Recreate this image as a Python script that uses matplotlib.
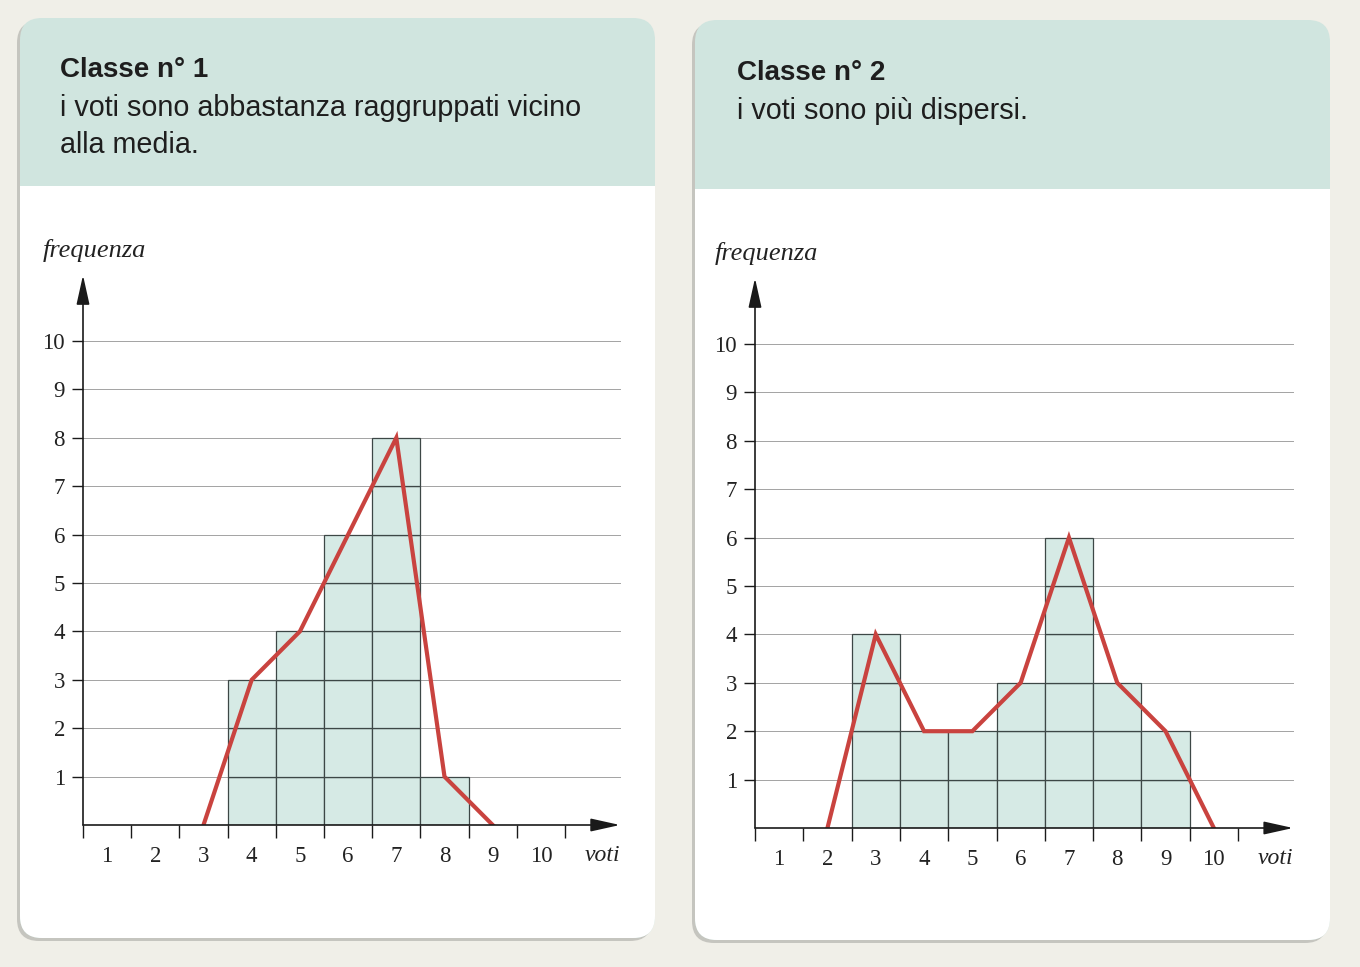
import matplotlib
matplotlib.use('Agg')
import matplotlib.pyplot as plt
from matplotlib.patches import FancyBboxPatch, Rectangle
import numpy as np

# dati
voti = [1, 2, 3, 4, 5, 6, 7, 8, 9, 10]
freq_classe1 = [0, 0, 0, 3, 4, 6, 8, 1, 0, 0]
freq_classe2 = [0, 0, 4, 2, 2, 3, 6, 3, 2, 0]
freq_ticks = [1, 2, 3, 4, 5, 6, 7, 8, 9, 10]

titoli = ['Classe n° 1', 'Classe n° 2']
testi = [['i voti sono abbastanza raggruppati vicino', 'alla media.'],
         ['i voti sono più dispersi.']]

W, H = 1360, 967
bg_col = '#f0efe8'
head_col = '#d0e5df'
bar_col = '#d6eae5'
edge_col = '#3d4746'
red = '#c9433f'
serif = 'Liberation Serif'
sans = 'Liberation Sans'

fig = plt.figure(figsize=(W / 100, H / 100), dpi=100)
fig.patch.set_facecolor(bg_col)

bg = fig.add_axes([0, 0, 1, 1])
bg.set_xlim(0, W)
bg.set_ylim(H, 0)
bg.axis('off')


def card(x0, y0, x1, y1, yh):
    r = 22
    # ombra
    sh = FancyBboxPatch((x0 - 3, y0 + 3), x1 - x0, y1 - y0,
                        boxstyle=f'round,pad=0,rounding_size={r}',
                        fc='#a9a9a4', ec='none', alpha=0.6, zorder=1)
    bg.add_patch(sh)
    head = FancyBboxPatch((x0, y0), x1 - x0, y1 - y0,
                          boxstyle=f'round,pad=0,rounding_size={r}',
                          fc=head_col, ec='none', zorder=2)
    bg.add_patch(head)
    body = FancyBboxPatch((x0, yh), x1 - x0, y1 - yh,
                          boxstyle=f'round,pad=0,rounding_size={r}',
                          fc='white', ec='none', zorder=3)
    bg.add_patch(body)
    bg.add_patch(Rectangle((x0, yh), x1 - x0, r + 2, fc='white', ec='none', zorder=3))


card(20, 18, 655, 938, 186)
card(695, 20, 1330, 940, 189)

for (tx, ty), tit, righe in zip([(60, 70), (737, 73)], titoli, testi):
    bg.text(tx, ty, tit, fontsize=20, fontweight='bold', family=sans,
            color='#1e1e1e', va='center', ha='left', zorder=5)
    for i, riga in enumerate(righe):
        bg.text(tx, ty + 38 + 37 * i, riga, fontsize=20.7, family=sans,
                color='#1e1e1e', va='center', ha='left', zorder=5)


def grafico(x0px, y0px, sx, sy, freq):
    xmin, xmax, ymin, ymax = 0.5, 11.7, 0, 11.5
    left = x0px + (xmin - 0.5) * sx
    ax = fig.add_axes([left / W, 1 - y0px / H, (xmax - xmin) * sx / W,
                       (ymax - ymin) * sy / H])
    ax.set_facecolor('none')
    ax.set_xlim(xmin, xmax)
    ax.set_ylim(ymin, ymax)
    for s in ax.spines.values():
        s.set_visible(False)

    # righe orizzontali
    for f in freq_ticks:
        ax.plot([0.5, 11.64], [f, f], color='#a3a3a3', lw=0.7, zorder=1)

    # istogramma a quadretti
    freq = np.array(freq)
    for k in range(freq.max()):
        sel = freq > k
        ax.bar(np.array(voti)[sel], 1, bottom=k, width=1, color=bar_col,
               edgecolor=edge_col, linewidth=0.9, zorder=2)

    # poligono delle frequenze
    nz = np.nonzero(freq)[0]
    i0, i1 = nz[0] - 1, nz[-1] + 1
    px = [voti[i0]] + list(np.array(voti)[nz[0]:nz[-1] + 1]) + [voti[i1]]
    py = [0] + list(freq[nz[0]:nz[-1] + 1]) + [0]
    ax.plot(px, py, color=red, lw=3, zorder=4, solid_joinstyle='miter')

    # assi con frecce
    arr = dict(arrowstyle='-|>,head_length=0.9,head_width=0.2', color='#1a1a1a',
               lw=1.2, shrinkA=0, shrinkB=0, mutation_scale=20)
    ax.annotate('', xy=(11.64, 0), xytext=(0.5, 0), arrowprops=arr,
                annotation_clip=False, zorder=5)
    ax.annotate('', xy=(0.5, 11.36), xytext=(0.5, 0), arrowprops=arr,
                annotation_clip=False, zorder=5)

    ax.set_xticks(np.arange(0.5, 11, 1))
    ax.set_xticklabels([])
    ax.tick_params(axis='x', which='major', direction='out', length=9,
                   width=1, color='#1a1a1a')
    ax.set_xticks(voti, minor=True)
    ax.set_xticklabels([str(v) for v in voti], minor=True, family=serif,
                       fontsize=16.5, color='#222222')
    ax.tick_params(axis='x', which='minor', length=0, pad=15)

    ax.set_yticks(freq_ticks)
    ax.set_yticklabels([str(f) for f in freq_ticks], family=serif,
                       fontsize=16.5, color='#222222')
    ax.tick_params(axis='y', direction='out', length=8, width=1,
                   color='#1a1a1a', pad=5)

    ax.text(11.64, -0.64, 'voti', family=serif, style='italic', fontsize=17,
            ha='right', va='center', color='#222222', clip_on=False)
    ax.text(-0.33, 11.88, 'frequenza', family=serif, style='italic',
            fontsize=19, ha='left', va='center', color='#222222', clip_on=False)
    return ax


grafico(83, 825, 48.2, 48.4, freq_classe1)
grafico(755, 828, 48.3, 48.4, freq_classe2)

fig.savefig('out.png', dpi=100, facecolor=fig.get_facecolor())
